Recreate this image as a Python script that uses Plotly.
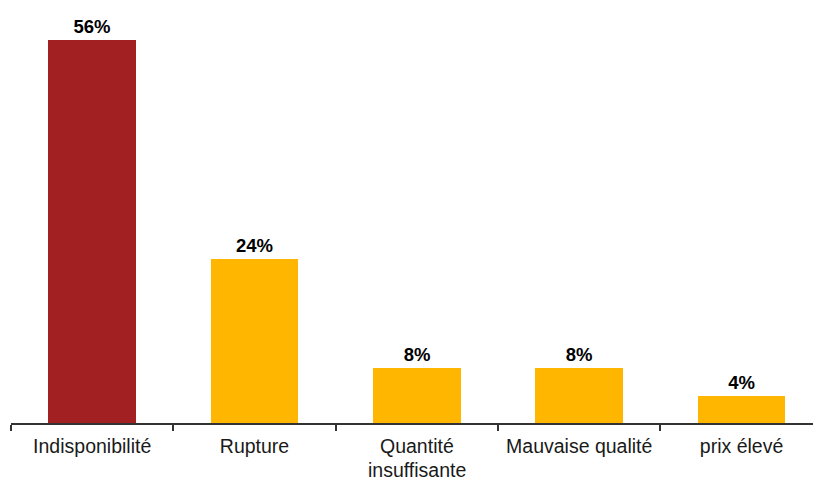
import plotly.graph_objects as go

categories = ["Indisponibilité", "Rupture", "Quantité insuffisante", "Mauvaise qualité", "prix élevé"]
tick_lines = [["Indisponibilité"], ["Rupture"], ["Quantité", "insuffisante"], ["Mauvaise qualité"], ["prix élevé"]]
values = [56, 24, 8, 8, 4]
colors = ["#A21F22", "#FFB600", "#FFB600", "#FFB600", "#FFB600"]
value_labels = [f"{v}%" for v in values]

LABEL_SIZE = 19.5

fig = go.Figure(
    go.Bar(
        x=categories,
        y=values,
        marker=dict(color=colors, line=dict(width=0)),
        width=0.54,
        text=value_labels,
        textposition="outside",
        textfont=dict(family="Liberation Sans, Arial", size=18.5, color="black", weight="bold"),
        cliponaxis=False,
    )
)

# second lines of wrapped category labels, set tighter than Plotly's default line spacing
for cat, lines in zip(categories, tick_lines):
    for k, line in enumerate(lines[1:], start=1):
        fig.add_annotation(
            x=cat, xref="x", y=0, yref="paper",
            text=line, showarrow=False,
            yanchor="top", yshift=-35 - 21 * (k - 1),
            borderpad=0,
            font=dict(family="Liberation Sans, Arial", size=LABEL_SIZE, color="#1a1a1a"),
        )

fig.update_layout(
    width=813,
    height=481,
    margin=dict(l=11, r=0, t=13, b=58),
    paper_bgcolor="white",
    plot_bgcolor="white",
    showlegend=False,
    bargap=0,
    font=dict(family="Liberation Sans, Arial", size=LABEL_SIZE, color="#1a1a1a"),
)

fig.update_xaxes(
    type="category",
    range=[-0.5, 4.44],
    automargin=False,
    tickmode="array",
    tickvals=categories,
    ticktext=[lines[0] for lines in tick_lines],
    showline=True,
    linecolor="#333333",
    linewidth=1.5,
    ticks="outside",
    tickson="boundaries",
    ticklen=6,
    tickwidth=1.5,
    tickcolor="#333333",
    ticklabelstandoff=5,
    showgrid=False,
    tickfont=dict(size=LABEL_SIZE, color="#1a1a1a"),
)
fig.update_yaxes(range=[0, 60], visible=False, showgrid=False, automargin=False)

fig.write_html("out.html")
